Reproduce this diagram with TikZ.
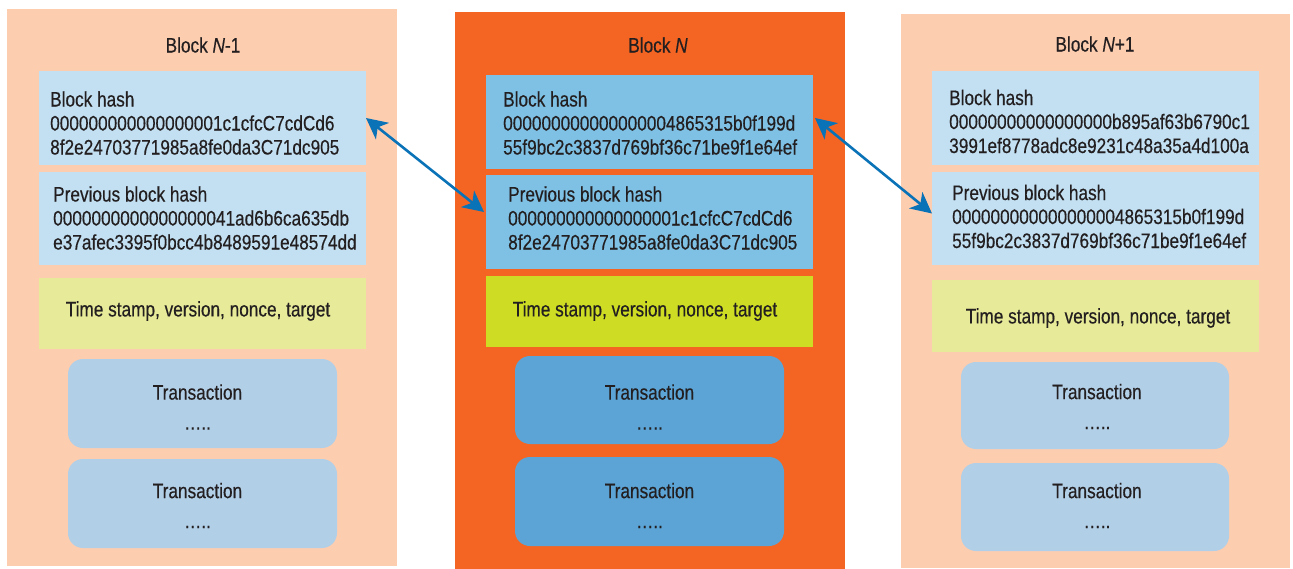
\documentclass[tikz,border=0pt]{standalone}
\usepackage{fontspec}
\setmainfont{Liberation Sans}[FakeStretch=0.82, FakeBold=0.4]
\usetikzlibrary{calc,arrows.meta}

\definecolor{ink}{HTML}{231F20}
\definecolor{peach}{HTML}{FDCDB0}
\definecolor{hot}{HTML}{F46524}
\definecolor{paleblue}{HTML}{C2E0F2}
\definecolor{midblue}{HTML}{7FC1E5}
\definecolor{paleyellow}{HTML}{E7EA98}
\definecolor{lime}{HTML}{CEDD24}
\definecolor{txlight}{HTML}{B2CFE8}
\definecolor{txdark}{HTML}{5CA4D5}
\definecolor{linkblue}{HTML}{0A72B7}

\begin{document}
\begin{tikzpicture}[x=1pt,y=-1pt,
  font=\fontsize{21}{24}\selectfont, text=ink,
  box/.style 2 args={minimum width=#1, minimum height=#2, inner sep=0pt, outer sep=0pt},
  txbox/.style={box={269}{89}, rounded corners=15pt},
  txtext/.style={align=center, inner sep=0pt},
  hashtxt/.style={anchor=west, align=left, inner sep=0pt},
  title/.style={inner sep=0pt},
  link/.style={draw=linkblue, line width=2.6pt,
    {Stealth[length=21pt,width=21pt,inset=6pt]}-{Stealth[length=21pt,width=21pt,inset=6pt]}}]

\useasboundingbox (0,0) rectangle (1293,569);

% ---------- Block N-1 ----------
\node[box={390}{557}, fill=peach] (blockL) at (202,287.5) {};
\node[title] (titleL) at (203,45) {Block \textit{N}-1};
\node[box={327}{94}, fill=paleblue] (hashL) at (202.5,118) {};
\node[hashtxt] (hashLt) at (50,123) {Block hash\\000000000000000001c1cfcC7cdCd6\\8f2e24703771985a8fe0da3C71dc905};
\node[box={327}{93}, fill=paleblue] (prevL) at (202.5,218.5) {};
\node[hashtxt] (prevLt) at (53,218) {Previous block hash\\0000000000000000041ad6b6ca635db\\e37afec3395f0bcc4b8489591e48574dd};
\node[box={327}{71}, fill=paleyellow] (timeL) at (202.5,313.5) {};
\node (timeLt) at (198,311) {Time stamp, version, nonce, target};
\node[txbox, fill=txlight] (tx1L) at (202.5,403.5) {};
\node[txtext] (tx1Lt) at ($(tx1L)+(-5,3.5)$) {Transaction\\[6pt]…..};
\node[txbox, fill=txlight] (tx2L) at (202.5,503.5) {};
\node[txtext] (tx2Lt) at ($(tx2L)+(-5,2)$) {Transaction\\[6pt]…..};

% ---------- Block N ----------
\node[box={390}{557}, fill=hot] (blockN) at (650,290.5) {};
\node[title] (titleN) at (658,45) {Block \textit{N}};
\node[box={327}{94}, fill=midblue] (hashN) at (649.5,122) {};
\node[hashtxt] (hashNt) at (503,123) {Block hash\\000000000000000004865315b0f199d\\55f9bc2c3837d769bf36c71be9f1e64ef};
\node[box={327}{94}, fill=midblue] (prevN) at (649.5,222) {};
\node[hashtxt] (prevNt) at (508,218) {Previous block hash\\000000000000000001c1cfcC7cdCd6\\8f2e24703771985a8fe0da3C71dc905};
\node[box={327}{71}, fill=lime] (timeN) at (649.5,311.5) {};
\node (timeNt) at (645,311) {Time stamp, version, nonce, target};
\node[txbox, minimum height=88, fill=txdark] (tx1N) at (649.5,400) {};
\node[txtext] (tx1Nt) at ($(tx1N)+(0,7)$) {Transaction\\[6pt]…..};
\node[txbox, fill=txdark] (tx2N) at (649.5,501.5) {};
\node[txtext] (tx2Nt) at ($(tx2N)+(0,4)$) {Transaction\\[6pt]…..};

% ---------- Block N+1 ----------
\node[box={389}{554}, fill=peach] (blockR) at (1095.5,291) {};
\node[title] (titleR) at (1095,44) {Block \textit{N}+1};
\node[box={327}{94}, fill=paleblue] (hashR) at (1095.5,118) {};
\node[hashtxt] (hashRt) at (949,121.5) {Block hash\\00000000000000000b895af63b6790c1\\3991ef8778adc8e9231c48a35a4d100a};
\node[box={327}{93}, fill=paleblue] (prevR) at (1095.5,218.5) {};
\node[hashtxt] (prevRt) at (952,216.5) {Previous block hash\\000000000000000004865315b0f199d\\55f9bc2c3837d769bf36c71be9f1e64ef};
\node[box={327}{72}, fill=paleyellow] (timeR) at (1095.5,316) {};
\node (timeRt) at (1098,318) {Time stamp, version, nonce, target};
\node[txbox, minimum width=268, minimum height=87, fill=txlight] (tx1R) at (1095,405.5) {};
\node[txtext] (tx1Rt) at ($(tx1R)+(2,1)$) {Transaction\\[6pt]…..};
\node[txbox, minimum width=268, minimum height=88, fill=txlight] (tx2R) at (1095,507) {};
\node[txtext] (tx2Rt) at ($(tx2R)+(2,-1.5)$) {Transaction\\[6pt]…..};

% ---------- hash links ----------
\draw[link] (hashL.east) -- ($(prevN.west)+(-2,-10)$);
\draw[link] ($(hashN.east)+(2,-4)$) -- ($(prevR.west)+(0,-5)$);

\end{tikzpicture}
\end{document}
